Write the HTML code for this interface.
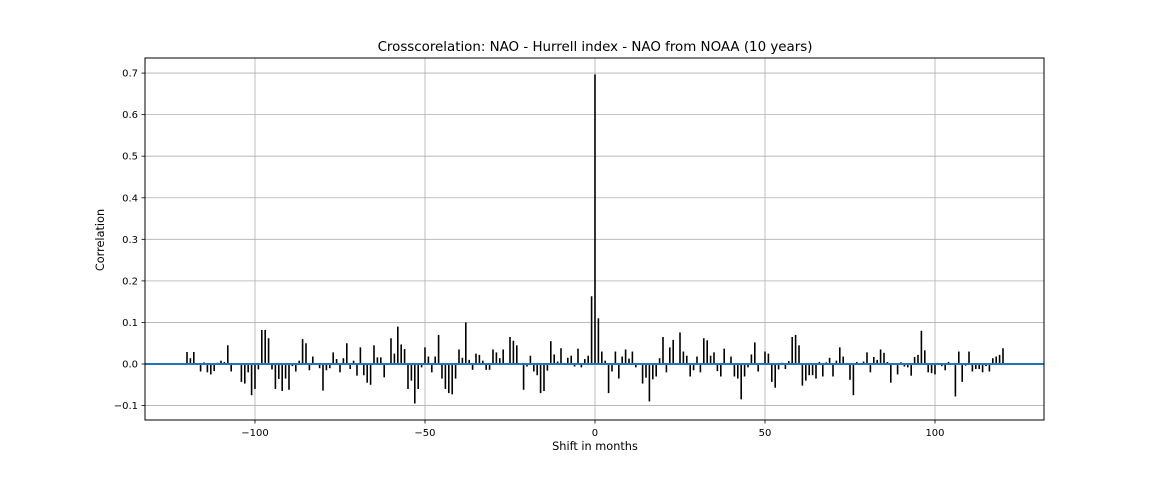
<!DOCTYPE html>
<html><head><meta charset="utf-8"><style>
html,body{margin:0;padding:0;background:#fff;}
svg{display:block;font-family:"DejaVu Sans","Liberation Sans",sans-serif;}
</style></head><body>
<svg id="chart" width="1160" height="480" viewBox="0 0 1160 480" xmlns="http://www.w3.org/2000/svg">
<rect x="0" y="0" width="1160" height="480" fill="#fff"/>
<g id="grid"></g>
<g id="bars"></g>
<g id="zero"></g>
<rect x="145" y="58" width="899" height="362" fill="none" stroke="#000" stroke-width="1"/>
<g id="xticks"></g>
<g id="yticks"></g>
<text x="595" y="51" font-size="13.4" text-anchor="middle">Crosscorelation: NAO - Hurrell index - NAO from NOAA (10 years)</text>
<text x="595" y="450" font-size="11.3" text-anchor="middle">Shift in months</text>
<text x="104" y="240" font-size="11.3" text-anchor="middle" transform="rotate(-90 104 240)">Correlation</text>
</svg>
<script>
const lagStart = -120;
const corrNeg = [0.029,0.014,0.029,-0.002,-0.018,0.004,-0.02,-0.025,-0.017,0.003,0.008,0.005,0.045,-0.018,0,0,-0.043,-0.047,-0.02,-0.075,-0.06,-0.013,0.082,0.082,0.062,-0.013,-0.06,-0.036,-0.065,-0.035,-0.062,-0.005,-0.018,0.008,0.06,0.05,-0.015,0.018,0,-0.01,
-0.064,-0.015,-0.01,0.028,0.012,-0.02,0.014,0.05,-0.012,0.008,-0.028,0.04,-0.027,-0.045,-0.05,0.045,0.016,0.016,-0.032,0,0.062,0.025,0.09,0.047,0.036,-0.06,-0.04,-0.095,-0.06,-0.008,0.04,0.018,-0.02,0.018,0.07,-0.035,-0.06,-0.07,-0.073,-0.035,0.035,
0.015,0.1,0.01,-0.014,0.025,0.022,0.008,-0.014,-0.014,0.035,0.028,0.014,0.035,0,0.065,0.056,0.045,0,-0.062,-0.006,0.02,-0.018,-0.027,-0.07,-0.065,-0.016,0.055,0.023,0.006,0.038,0,0.015,0.02,-0.006,0.037,-0.008,0.012,0.02,0.163];
const corrZero = [0.697];
const corrPos = [0.11,0.03,0.008,-0.07,-0.018,0.03,-0.035,0.018,0.035,0.013,0.03,-0.008,0,-0.047,-0.033,-0.09,-0.037,-0.03,0.014,0.065,-0.02,0.04,0.058,0,0.076,0.03,0.02,-0.03,-0.015,0.018,-0.02,0.062,0.057,0.02,0.028,-0.017,-0.03,0.037,0,0.018,
-0.03,-0.035,-0.085,-0.03,-0.008,0.023,0.052,-0.018,0,0.03,0.025,-0.043,-0.057,-0.013,0.003,-0.012,0.007,0.065,0.07,0.045,-0.052,-0.04,-0.027,-0.027,-0.035,0.005,-0.03,0.004,0.015,-0.03,0.008,0.04,0.018,0,-0.038,-0.075,0.005,0,0.006,0.028,-0.02,
0.017,0.01,0.035,0.027,0.005,-0.045,0,-0.025,0.004,-0.006,-0.008,-0.028,0.017,0.022,0.08,0.033,-0.02,-0.022,-0.025,0,-0.005,-0.015,0.005,0,-0.078,0.03,-0.043,-0.004,0.03,-0.018,-0.012,-0.012,-0.02,-0.005,-0.018,0.014,0.018,0.022,0.038];
const xTicks = [-100,-50,0,50,100];
const yTicks = [-0.1,0.0,0.1,0.2,0.3,0.4,0.5,0.6,0.7];
const yTickLabels = ["\u22120.1","0.0","0.1","0.2","0.3","0.4","0.5","0.6","0.7"];
const xTickLabels = ["\u2212100","\u221250","0","50","100"];

const L=145,R=1044,T=58,B=420;
const xMin=-132.35,xMax=132.06,yMin=-0.1347,yMax=0.7363;
const sx=v=>L+(v-xMin)/(xMax-xMin)*(R-L);
const sy=v=>B-(v-yMin)/(yMax-yMin)*(B-T);
const NS="http://www.w3.org/2000/svg";
function mk(tag,attrs,parent,text){const e=document.createElementNS(NS,tag);for(const k in attrs)e.setAttribute(k,attrs[k]);if(text!==undefined)e.textContent=text;document.getElementById(parent).appendChild(e);return e;}
const values=corrNeg.concat(corrZero,corrPos);
xTicks.forEach((t,i)=>{
  const x=sx(t);
  const g=mk('line',{x1:x,x2:x,y1:T,y2:B,stroke:'#b0b0b0','stroke-width':0.8},'grid');
  
  
  const tk=mk('line',{x1:x,x2:x,y1:B,y2:B+3.5,stroke:'#000','stroke-width':0.8},'xticks');
  
  
  const lb=mk('text',{x:x,y:B+16,'font-size':10,'text-anchor':'middle'},'xticks',xTickLabels[i]);
  
  
});
yTicks.forEach((t,i)=>{
  const y=sy(t);
  const g=mk('line',{x1:L,x2:R,y1:y,y2:y,stroke:'#b0b0b0','stroke-width':0.8},'grid');
  
  
  const tk=mk('line',{x1:L-3.5,x2:L,y1:y,y2:y,stroke:'#000','stroke-width':0.8},'yticks');
  
  
  const lb=mk('text',{x:L-7,y:y+3.5,'font-size':10,'text-anchor':'end'},'yticks',yTickLabels[i]);
  
  
});
values.forEach((v,i)=>{
  const x=sx(lagStart+i);
  const b=mk('line',{x1:x,x2:x,y1:sy(0),y2:sy(v),stroke:'#000','stroke-width':1.6},'bars');
  
  
});
const z=mk('line',{x1:L,x2:R,y1:sy(0),y2:sy(0),stroke:'#1f77b4','stroke-width':2},'zero');


</script>
</body></html>
